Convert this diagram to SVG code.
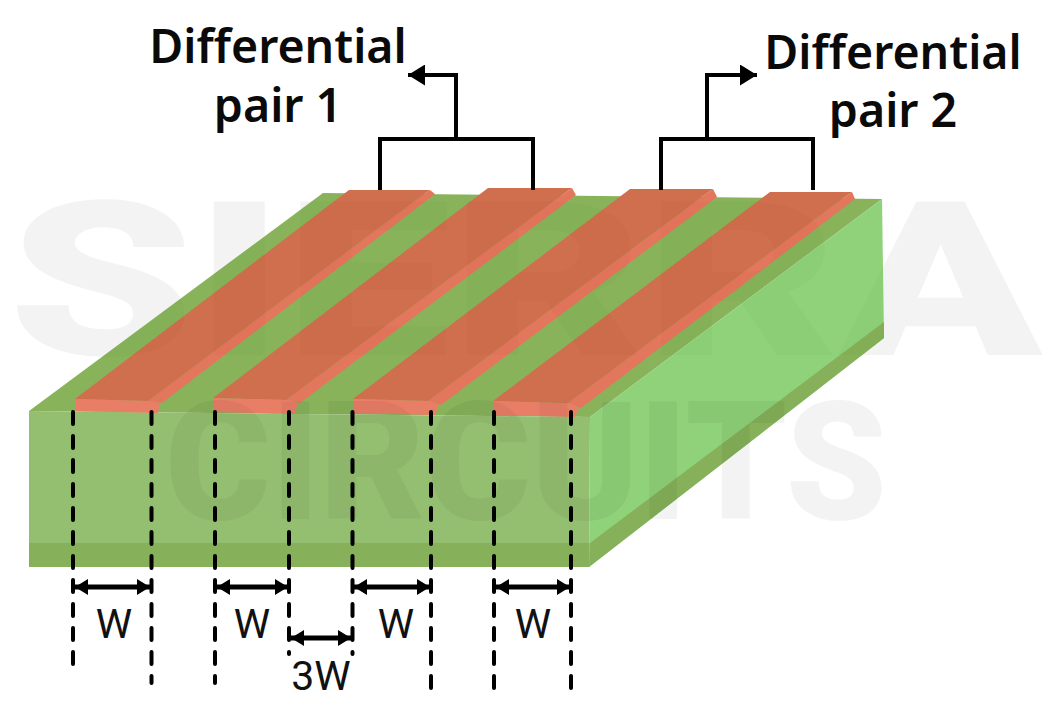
<svg xmlns="http://www.w3.org/2000/svg" width="1050" height="720" viewBox="0 0 1050 720">
<style>
.lbl{font-family:"Noto Sans","Open Sans",sans-serif;font-weight:600;font-size:46.500px;fill:#0a0a0a;text-anchor:middle}
.dim{font-family:Roboto,"Liberation Sans",sans-serif;font-size:41px;fill:#111;text-anchor:middle}
.wm{font-family:Roboto,"Liberation Sans",sans-serif;font-weight:900;fill:#000;opacity:.045}
.tr-top{fill:#bd3303}.tr-side{fill:#d83e19}.tr-front{fill:#e04827}
.dash{stroke:#000;stroke-width:4;stroke-dasharray:12 12;stroke-linecap:round;fill:none}
.ln{stroke:#000;stroke-width:4;fill:none}
.dl{stroke:#000;stroke-width:5;fill:none}
</style>
<defs>
<marker id="a" viewBox="0 0 17 21" refX="17" refY="10.500" markerWidth="17" markerHeight="21" markerUnits="userSpaceOnUse" orient="auto-start-reverse"><path d="M0 0L17 10.500L0 21Z" fill="#000"/></marker>
<marker id="d" viewBox="0 0 13 16" refX="13" refY="8" markerWidth="13" markerHeight="16" markerUnits="userSpaceOnUse" orient="auto-start-reverse"><path d="M0 0L13 8L0 16Z" fill="#000"/></marker>
</defs>
<rect width="1050" height="720" fill="#fff"/>
<text id="watermark-sierra" class="wm" x="8" y="355" font-size="216" textLength="1034" lengthAdjust="spacingAndGlyphs">SIERRA</text>
<g id="stack" opacity=".7">
<g id="board">
<polygon points="29,411 323,193 882,199 590,417" fill="#569416"/>
<polygon points="29,411 590,417 589,567 29,567" fill="#68a534"/>
<polygon points="29,543 590,543 589,567 29,567" fill="#549115"/>
<polygon points="590,417 882,199 884,338 589,567" fill="#60bf41"/>
<polygon points="590,543 884,322 884,338 589,567" fill="#549115"/>
</g>
<g id="trace1">
<polygon class="tr-side" points="148,401 416,200 430,190 435,194 162,403"/>
<polygon class="tr-top" points="75,399 349,190 430,190 416,200 148,401"/>
<polygon class="tr-front" points="75,399 150,401 160,403 158,413 75,411"/>
</g>
<g id="trace2">
<polygon class="tr-side" points="286,400 558,198 572,188 576,195 300,403"/>
<polygon class="tr-top" points="213,398 488,188 572,188 558,198 286,400"/>
<polygon class="tr-front" points="213,398 288,400 298,403 295,414 213,412"/>
</g>
<g id="trace3">
<polygon class="tr-side" points="428,401 699,199 713,189 717,197 441,405"/>
<polygon class="tr-top" points="353,399 630,189 713,189 699,199 428,401"/>
<polygon class="tr-front" points="353,399 430,401 439,405 435,415 353,413"/>
</g>
<g id="trace4">
<polygon class="tr-side" points="568,403 838,202 852,192 855,199 581,408"/>
<polygon class="tr-top" points="493,401 770,192 852,192 838,202 568,403"/>
<polygon class="tr-front" points="493,401 570,403 579,408 575,417 493,415"/>
</g>
</g>
<text id="watermark-circuits" class="wm" x="165" y="519" font-size="165" textLength="722" lengthAdjust="spacingAndGlyphs">CIRCUITS</text>
<g id="connectors">
<path class="dash" d="M73 412V665M151.500 412V683M215 412V683M289 412V654M352.500 412V654M431 412V690M494 412V690M571 412V690"/>
<path class="ln" d="M380 190V139H533V190M456 139V75H408" marker-end="url(#a)"/>
<path class="ln" d="M661 190V139H813V190M707 139V75H757" marker-end="url(#a)"/>
<path class="dl" d="M75 587H150" marker-start="url(#d)" marker-end="url(#d)"/>
<path class="dl" d="M217 587H288" marker-start="url(#d)" marker-end="url(#d)"/>
<path class="dl" d="M354 587H430" marker-start="url(#d)" marker-end="url(#d)"/>
<path class="dl" d="M496 587H570" marker-start="url(#d)" marker-end="url(#d)"/>
<path class="dl" d="M291 638H351" marker-start="url(#d)" marker-end="url(#d)"/>
</g>
<g id="labels">
<text class="lbl" x="278" y="63">Differential</text>
<text class="lbl" x="278" y="122">pair 1</text>
<text class="lbl" x="893" y="69">Differential</text>
<text class="lbl" x="893" y="127">pair 2</text>
<text class="dim" x="114" y="638">W</text>
<text class="dim" x="252" y="638">W</text>
<text class="dim" x="396" y="638">W</text>
<text class="dim" x="533" y="638">W</text>
<text class="dim" x="321" y="690">3W</text>
</g>
</svg>
